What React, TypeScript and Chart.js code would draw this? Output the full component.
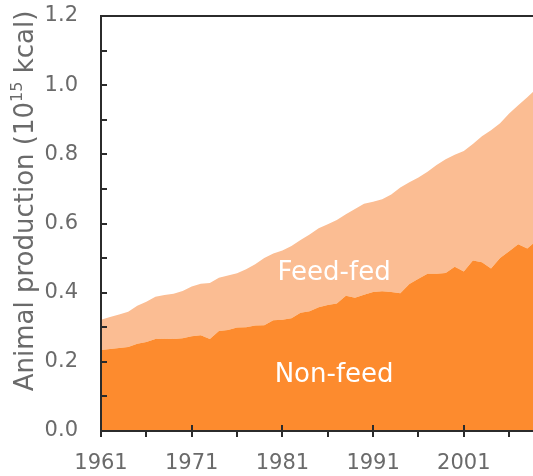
import React, { useEffect, useRef } from "react";
import { Chart, registerables } from "chart.js";

Chart.register(...registerables);

const years = [
  1961, 1962, 1963, 1964, 1965, 1966, 1967, 1968, 1969, 1970,
  1971, 1972, 1973, 1974, 1975, 1976, 1977, 1978, 1979, 1980,
  1981, 1982, 1983, 1984, 1985, 1986, 1987, 1988, 1989, 1990,
  1991, 1992, 1993, 1994, 1995, 1996, 1997, 1998, 1999, 2000,
  2001, 2002, 2003, 2004, 2005, 2006, 2007, 2008, 2009, 2010,
];

// Non-feed animal production (10^15 kcal)
const nonFeed = [
  0.234, 0.237, 0.240, 0.243, 0.252, 0.257, 0.266, 0.267, 0.266, 0.268,
  0.274, 0.277, 0.266, 0.289, 0.292, 0.299, 0.300, 0.305, 0.306, 0.320,
  0.322, 0.326, 0.342, 0.346, 0.358, 0.364, 0.369, 0.391, 0.385, 0.394,
  0.402, 0.404, 0.402, 0.398, 0.425, 0.440, 0.455, 0.455, 0.457, 0.475,
  0.461, 0.493, 0.488, 0.470, 0.500, 0.520, 0.540, 0.528, 0.550, 0.560,
];

// Total animal production = non-feed + feed-fed (top of the light area)
const totalProduction = [
  0.322, 0.330, 0.337, 0.345, 0.362, 0.374, 0.388, 0.393, 0.397, 0.405,
  0.418, 0.426, 0.428, 0.443, 0.450, 0.456, 0.468, 0.482, 0.500, 0.513,
  0.522, 0.535, 0.552, 0.568, 0.586, 0.598, 0.610, 0.627, 0.642, 0.657,
  0.663, 0.670, 0.684, 0.704, 0.719, 0.733, 0.750, 0.769, 0.786, 0.799,
  0.810, 0.830, 0.852, 0.870, 0.890, 0.918, 0.942, 0.965, 0.990, 1.010,
];

const yTicks = [0, 0.2, 0.4, 0.6, 0.8, 1.0, 1.2];
const xTickYears = [1961, 1971, 1981, 1991, 2001];

const seriesLabels = ["Non-feed", "Feed-fed"];
const labelPositions = [
  { x: 1986.7, y: 0.162 },
  { x: 1986.7, y: 0.457 },
];

const FONT = "'DejaVu Sans', sans-serif";
const TEXT_GRAY = "#6a6a6a";
const AXIS_COLOR = "#2b2b2b";

const framePlugin = {
  id: "frame",
  afterDatasetsDraw(chart: any) {
    const { ctx, chartArea, scales } = chart;
    const xs = scales.x;
    const ys = scales.y;
    const left = Math.round(chartArea.left);
    const top = Math.round(chartArea.top);
    const bottom = Math.round(chartArea.bottom);
    const right = chartArea.right;
    ctx.save();
    ctx.strokeStyle = AXIS_COLOR;
    ctx.lineWidth = 2;
    ctx.beginPath();
    ctx.moveTo(right, top);
    ctx.lineTo(left, top);
    ctx.lineTo(left, bottom);
    ctx.lineTo(right, bottom);
    ctx.lineTo(right, top);
    ctx.stroke();
    for (let i = 1; i < 12; i++) {
      const py = Math.round(ys.getPixelForValue(i / 10));
      ctx.beginPath();
      ctx.moveTo(left, py);
      ctx.lineTo(left + 6, py);
      ctx.stroke();
    }
    for (let yr = 1961; yr <= 2011; yr += 5) {
      const px = Math.round(xs.getPixelForValue(yr));
      const major = (yr - 1961) % 10 === 0;
      ctx.beginPath();
      ctx.moveTo(px, major ? bottom - 6 : bottom);
      ctx.lineTo(px, bottom + 6);
      ctx.stroke();
    }
    ctx.fillStyle = "#ffffff";
    ctx.font = `26px ${FONT}`;
    ctx.textAlign = "center";
    ctx.textBaseline = "middle";
    seriesLabels.forEach((t, i) => {
      const p = labelPositions[i];
      ctx.fillText(t, xs.getPixelForValue(p.x), ys.getPixelForValue(p.y));
    });
    ctx.translate(26, 201);
    ctx.rotate(-Math.PI / 2);
    ctx.fillStyle = TEXT_GRAY;
    ctx.textAlign = "left";
    ctx.textBaseline = "middle";
    const mainFont = `26px ${FONT}`;
    const supFont = `16px ${FONT}`;
    const p1 = "Animal production (10";
    const p2 = "15";
    const p3 = " kcal)";
    ctx.font = mainFont;
    const w1 = ctx.measureText(p1).width;
    const w3 = ctx.measureText(p3).width;
    ctx.font = supFont;
    const w2 = ctx.measureText(p2).width;
    const total = w1 + w2 + w3;
    let x0 = -total / 2;
    ctx.font = mainFont;
    ctx.fillText(p1, x0, 0);
    x0 += w1;
    ctx.font = supFont;
    ctx.fillText(p2, x0, -8);
    x0 += w2;
    ctx.font = mainFont;
    ctx.fillText(p3, x0, 0);
    ctx.restore();
  },
};

export default function App() {
  const ref = useRef<HTMLCanvasElement>(null);
  useEffect(() => {
    if (!ref.current) return;
    const chart = new Chart(ref.current, {
      type: "line",
      data: {
        labels: years,
        datasets: [
          {
            label: "Non-feed",
            data: years.map((y, i) => ({ x: y, y: nonFeed[i] })),
            backgroundColor: "#FD8B2E",
            borderWidth: 0,
            pointRadius: 0,
            fill: "origin",
            tension: 0,
          },
          {
            label: "Feed-fed",
            data: years.map((y, i) => ({ x: y, y: totalProduction[i] })),
            backgroundColor: "#FBBD93",
            borderWidth: 0,
            pointRadius: 0,
            fill: "-1",
            tension: 0,
          },
        ],
      },
      options: {
        responsive: false,
        animation: false,
        devicePixelRatio: 1,
        layout: { padding: { left: 0, top: 16, right: 65.5, bottom: 0 } },
        plugins: {
          legend: { display: false },
          tooltip: { enabled: false },
        },
        scales: {
          x: {
            type: "linear",
            min: 1961,
            max: 2011,
            grid: { display: false, drawTicks: false },
            border: { display: false },
            afterBuildTicks: (s: any) => {
              s.ticks = xTickYears.map((v) => ({ value: v }));
            },
            afterFit: (s: any) => {
              s.height = 45;
              s.paddingLeft = 0;
              s.paddingRight = 0;
            },
            ticks: {
              padding: 20,
              color: TEXT_GRAY,
              font: { family: FONT, size: 21 },
              maxRotation: 0,
              autoSkip: false,
              callback: (v: any) => String(v),
            },
          },
          y: {
            type: "linear",
            min: 0,
            max: 1.2,
            grid: { display: false, drawTicks: false },
            border: { display: false },
            afterBuildTicks: (s: any) => {
              s.ticks = yTicks.map((v) => ({ value: v }));
            },
            afterFit: (s: any) => {
              s.width = 101;
              s.paddingTop = 0;
              s.paddingBottom = 0;
            },
            ticks: {
              padding: 23,
              color: TEXT_GRAY,
              font: { family: FONT, size: 21 },
              callback: (v: any) => Number(v).toFixed(1),
            },
          },
        },
      },
      plugins: [framePlugin],
    });
    return () => chart.destroy();
  }, []);
  return (
    <div
      style={{
        position: "fixed",
        left: 0,
        top: 0,
        width: 533,
        height: 476,
        overflow: "hidden",
        background: "#fff",
      }}
    >
      <canvas ref={ref} width={620} height={476} style={{ display: "block" }} />
    </div>
  );
}
